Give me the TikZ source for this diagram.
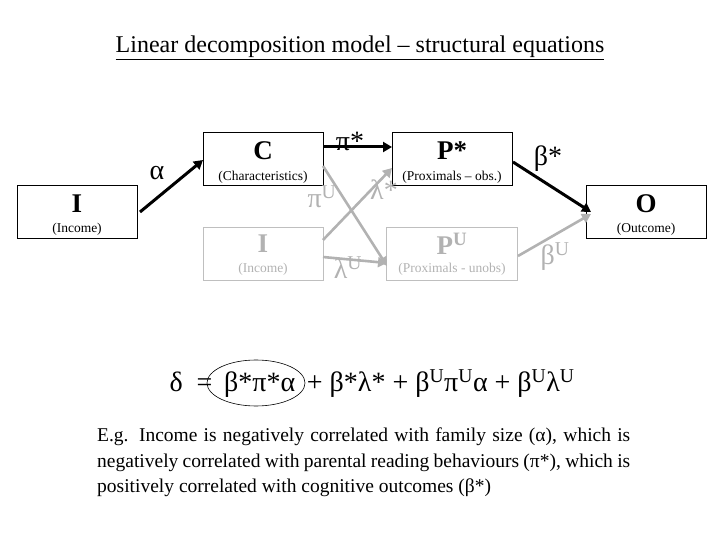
\documentclass[tikz,border=0pt]{standalone}
\usepackage{fontspec}
\setmainfont{Liberation Serif}
\usetikzlibrary{arrows.meta}
\begin{document}
\begin{tikzpicture}[x=1pt,y=-1pt,
 box/.style={draw,line width=0.9pt,minimum width=120pt,minimum height=53pt,inner sep=0pt},
 gbox/.style={box,draw=black!25,text=black!30},
 big/.style={font=\fontsize{27}{29}\selectfont\bfseries},
 sm/.style={font=\fontsize{13.5}{15}\selectfont},
 blk/.style={line width=3pt,-{Triangle[length=9pt,width=10pt]}},
 gry/.style={blk,draw=black!30,line width=2.6pt},
 lab/.style={font=\fontsize{28}{30}\selectfont},
 glab/.style={lab,text=black!30}]
\useasboundingbox (0,0) rectangle (720,540);
\node[font=\fontsize{24}{26}\selectfont] (title) at (360,48) {\underline{Linear decomposition model – structural equations}};
\node[box] (I) at (77,212) {};
\node[big] (It) at (77,204) {I}; \node[sm] (Is) at (77,229) {(Income)};
\node[box] (C) at (263,159) {};
\node[big] (Ct) at (263,151) {C}; \node[sm] (Cs) at (263,177) {(Characteristics)};
\node[box] (P) at (452,159) {};
\node[big] (Pt) at (452,151) {P*}; \node[sm] (Ps) at (452,177) {(Proximals – obs.)};
\node[box] (O) at (646,212) {};
\node[big] (Ot) at (646,204) {O}; \node[sm] (Os) at (646,229) {(Outcome)};
\node[gbox] (G) at (263,254) {};
\node[big,text=black!30] (Gt) at (263,244) {I}; \node[sm,text=black!30] (Gs) at (263,269) {(Income)};
\node[gbox,minimum width=131pt] (U) at (452,254) {};
\node[big,text=black!30] (Ut) at (452,244) {P\textsuperscript{U}}; \node[sm,text=black!30] (Us) at (452,269) {(Proximals - unobs)};
\coordinate (a1) at (140,212); \coordinate (a2) at (203,160);
\draw[blk] (a1) -- (a2);
\coordinate (b1) at (323,147); \coordinate (b2) at (392,147);
\draw[blk] (b1) -- (b2);
\coordinate (c1) at (323,166); \coordinate (c2) at (387,266);
\draw[gry] (c1) -- (c2);
\coordinate (d1) at (323,240); \coordinate (d2) at (392,168);
\draw[gry] (d1) -- (d2);
\coordinate (e1) at (323,257); \coordinate (e2) at (387,263);
\draw[gry] (e1) -- (e2);
\coordinate (f1) at (513,162); \coordinate (f2) at (591,212);
\draw[blk] (f1) -- (f2);
\coordinate (g1) at (518,256); \coordinate (g2) at (591,214);
\draw[gry] (g1) -- (g2);
\node[lab] (la) at (157,173) {α};
\node[lab] (lp) at (350,141) {π*};
\node[glab] (lpu) at (322,197) {π\textsuperscript{U}};
\node[glab] (lls) at (384,190) {λ*};
\node[glab] (llu) at (348,268) {λ\textsuperscript{U}};
\node[lab] (lb) at (548,159) {β*};
\node[glab] (lbu) at (555,257) {β\textsuperscript{U}};
\node[font=\fontsize{28}{30}\selectfont,anchor=west] (eq) at (166,384) {δ \ = \,β*π*α \,+ β*λ* + β\textsuperscript{U}π\textsuperscript{U}α + β\textsuperscript{U}λ\textsuperscript{U}};
\draw[line width=0.6pt] (256,383) ellipse [x radius=49, y radius=23];
\node[anchor=north west,inner sep=0pt,text width=533pt,align=justify,font=\fontsize{19.5}{25.5}\selectfont] (para) at (97,428) {\hyphenpenalty=10000\exhyphenpenalty=10000 E.g. Income is negatively correlated with family size (α), which is negatively correlated with parental reading behaviours (π*), which is positively correlated with cognitive outcomes (β*)};
\end{tikzpicture}
\end{document}
